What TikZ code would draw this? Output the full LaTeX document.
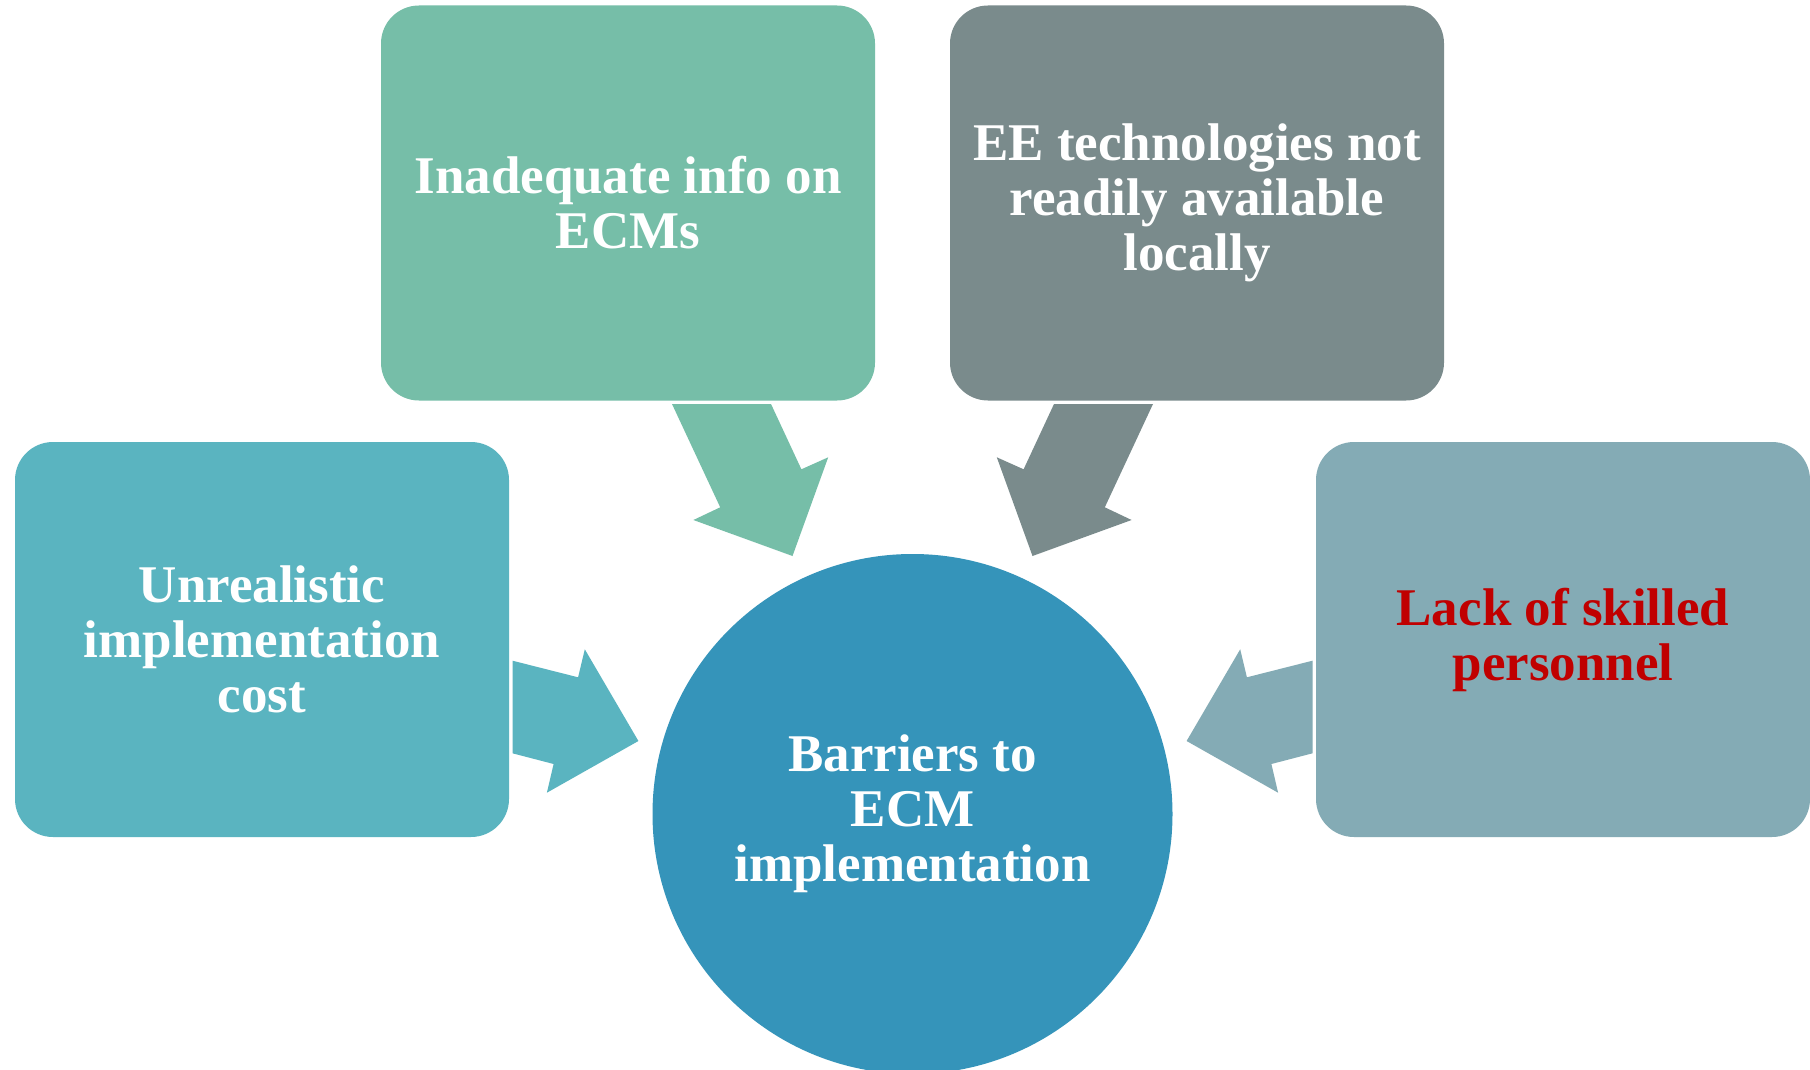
\documentclass[tikz,border=0pt]{standalone}
\usepackage{fontspec}
\setmainfont{Liberation Serif}
\definecolor{cLeft}{HTML}{5AB4C0}
\definecolor{cGreen}{HTML}{76BEA8}
\definecolor{cGray}{HTML}{7A8B8C}
\definecolor{cRight}{HTML}{84ABB5}
\definecolor{cCircle}{HTML}{3594BA}
\definecolor{cRed}{HTML}{C00000}
\begin{document}
\begin{tikzpicture}[x=1pt,y=-1pt,
  box/.style={rectangle, rounded corners=38pt, minimum width=494pt, minimum height=395pt,
    inner sep=0pt, text=white, align=center, font=\bfseries\fontsize{53}{55}\selectfont},
  hub/.style={circle, minimum size=520pt, inner sep=0pt, fill=cCircle, text=white,
    align=center, font=\bfseries\fontsize{53}{55}\selectfont}]
\useasboundingbox (0,0) rectangle (1810,1070);
\fill[white] (0,0) rectangle (1810,1070);

\node[box, fill=cLeft] (cost) at (262,639.5) {Unrealistic\\implementation\\cost};
\node[box, fill=cGreen] (info) at (628,203) {Inadequate info on\\ECMs};
\node[box, fill=cGray] (tech) at (1197,203) {EE technologies not\\readily available\\locally};
\node[box, fill=cRight, text=cRed] (skill) at (1563,639.5) {Lack of skilled\\personnel};
\node[hub] (hub) at (912.5,814) {Barriers to\\ECM\\implementation};

% block arrows
\fill[cLeft] (512.5,660.7) -- (578.1,677.3) -- (584.8,649.3) -- (638.4,741)
  -- (546.9,792.7) -- (553.6,764) -- (512.5,753.3) -- cycle;
\fill[cRight] (1312.5,660.7) -- (1246.9,677.3) -- (1240.2,649.3) -- (1186.6,741)
  -- (1278.1,792.7) -- (1271.4,764) -- (1312.5,753.3) -- cycle;
\fill[cGreen] (672,404) -- (771,404) -- (801.4,469.3) -- (828.2,457.3)
  -- (792.5,556) -- (693.4,520) -- (720.2,507.3) -- cycle;
\fill[cGray] (1153,404) -- (1054,404) -- (1023.6,469.3) -- (996.8,457.3)
  -- (1032.5,556) -- (1131.6,520) -- (1104.8,507.3) -- cycle;
\end{tikzpicture}
\end{document}
